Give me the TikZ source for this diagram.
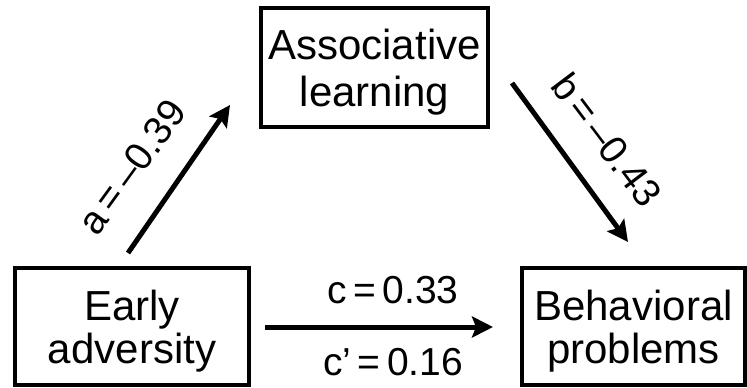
\documentclass[tikz,border=0pt]{standalone}
\usepackage{fontspec}
\setmainfont{Liberation Sans}
\usetikzlibrary{arrows.meta}
\begin{document}
\begin{tikzpicture}[x=1pt,y=-1pt,
  box/.style={draw,line width=3.2pt,inner sep=0pt,align=center,text depth=0pt},
  conn/.style={line width=5pt,-{Stealth[length=21pt,width=21pt,inset=4pt]}},
  lbl/.style={font=\fontsize{39}{44}\selectfont,inner sep=0pt}]
\useasboundingbox (0,0) rectangle (747,388);
\node[box,minimum width=227pt,minimum height=119pt,font=\fontsize{42}{47}\selectfont] (assoc) at (374.5,67.5) {Associative\\learning};
\node[box,minimum width=234pt,minimum height=117pt,font=\fontsize{42}{43}\selectfont] (early) at (132,326.5) {Early\\adversity};
\node[box,minimum width=223pt,minimum height=117pt,font=\fontsize{42}{43}\selectfont] (behav) at (633.5,326.5) {Behavioral\\problems};
\coordinate (a1) at (128,253);
\coordinate (a2) at (230,105);
\coordinate (b1) at (512,83);
\coordinate (b2) at (628,242);
\coordinate (c1) at (265,327);
\coordinate (c2) at (493,327);
\draw[conn] (a1) -- (a2);
\draw[conn] (b1) -- (b2);
\draw[conn] (c1) -- (c2);
\node[lbl,rotate=54] (la) at (132,167) {a\,=\,–0.39};
\node[lbl,rotate=-53] (lb) at (607,140) {b\,=\,–0.43};
\node[lbl,anchor=base] (lc) at (393,303) {c\,=\,0.33};
\node[lbl,anchor=base] (lcp) at (393,375) {c’\,=\,0.16};
\end{tikzpicture}
\end{document}
